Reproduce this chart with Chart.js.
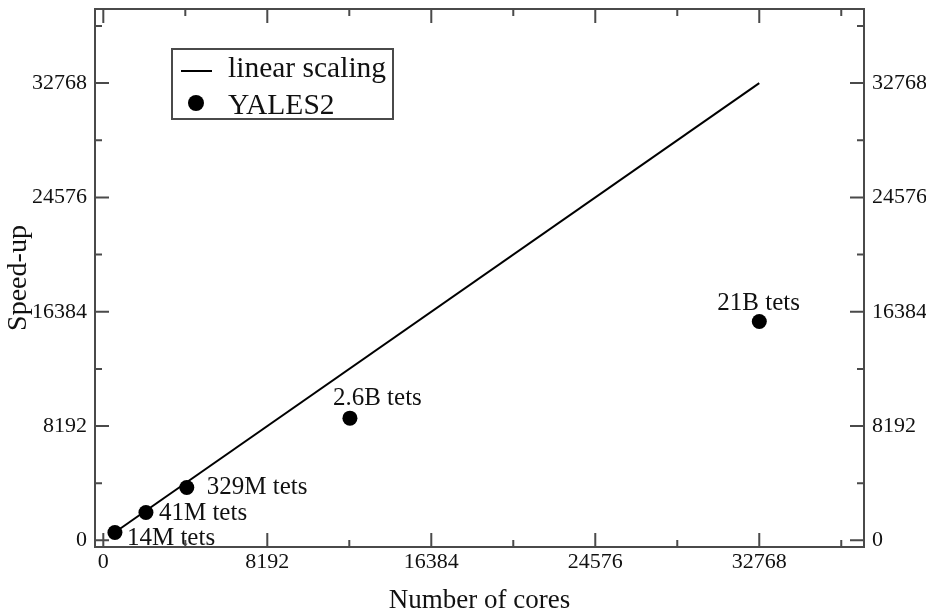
<!DOCTYPE html>
<html><head><meta charset="utf-8">
<script src="https://cdn.jsdelivr.net/npm/chart.js@4.4.0/dist/chart.umd.min.js"></script>
<style>html,body{margin:0;padding:0;background:#fff;overflow:hidden}</style>
</head><body>
<canvas id="c" width="926" height="614"></canvas>
<script>
// ---- data ----
const coresX = [580, 2130, 4170, 12320, 32770];
const speedUp = [560, 2000, 3790, 8760, 15680];
const pointLabels = ['14M tets', '41M tets', '329M tets', '2.6B tets', '21B tets'];
const linearX = [512, 32768];
const linearY = [512, 32768];
const majorTicks = [0, 8192, 16384, 24576, 32768];
const minorTicks = [4096, 12288, 20480, 28672, 36864];
const seriesNames = ['linear scaling', 'YALES2'];
const xTitle = 'Number of cores';
const yTitle = 'Speed-up';

// ---- style ----
const SERIF = "'Liberation Serif', 'Times New Roman', serif";
const FRAME = '#4a4a4a';
const INK = '#111';
const X_MIN = -415, X_MAX = 38000, Y_MIN = -475, Y_MAX = 38080;
const labelOffsets = [[12, 12], [13, 8], [20, 7], [-17, -13], [-42, -12]];

const setTicks = s => { s.ticks = majorTicks.map(v => ({ value: v })); };
const tickFont = { family: SERIF, size: 22 };
const zeroPad = s => { s.paddingTop = 0; s.paddingBottom = 0; s.paddingLeft = 0; s.paddingRight = 0; };

const innerTicks = {
  id: 'innerTicks',
  afterDraw(chart) {
    const { ctx, chartArea: a, scales } = chart;
    ctx.save();
    ctx.strokeStyle = FRAME; ctx.lineWidth = 2;
    const draw = (vals, len) => vals.forEach(v => {
      const px = scales.x.getPixelForValue(v);
      const py = scales.y.getPixelForValue(v);
      ctx.beginPath();
      ctx.moveTo(px, a.bottom); ctx.lineTo(px, a.bottom - len);
      ctx.moveTo(px, a.top); ctx.lineTo(px, a.top + len);
      ctx.moveTo(a.left, py); ctx.lineTo(a.left + len, py);
      ctx.moveTo(a.right, py); ctx.lineTo(a.right - len, py);
      ctx.stroke();
    });
    draw(majorTicks, 14);
    draw(minorTicks, 7);
    ctx.restore();
  }
};

const pointLabelPlugin = {
  id: 'pointLabelPlugin',
  afterDatasetsDraw(chart) {
    const { ctx } = chart;
    const meta = chart.getDatasetMeta(1);
    ctx.save();
    ctx.fillStyle = INK;
    ctx.font = `25px ${SERIF}`;
    ctx.textAlign = 'left';
    ctx.textBaseline = 'alphabetic';
    meta.data.forEach((el, i) => {
      const [dx, dy] = labelOffsets[i];
      ctx.fillText(pointLabels[i], el.x + dx, el.y + dy);
    });
    ctx.restore();
  }
};

const boxLegend = {
  id: 'boxLegend',
  afterDraw(chart) {
    const { ctx } = chart;
    const ds = chart.data.datasets;
    ctx.save();
    ctx.strokeStyle = FRAME; ctx.lineWidth = 2;
    ctx.strokeRect(172, 49, 221, 70);
    ctx.strokeStyle = '#000'; ctx.lineWidth = 2;
    ctx.beginPath(); ctx.moveTo(181, 71); ctx.lineTo(212, 71); ctx.stroke();
    ctx.fillStyle = '#000';
    ctx.beginPath(); ctx.arc(196, 103, 8, 0, Math.PI * 2); ctx.fill();
    ctx.fillStyle = INK;
    ctx.font = `29.5px ${SERIF}`;
    ctx.textAlign = 'left'; ctx.textBaseline = 'alphabetic';
    ctx.fillText(ds[0].label, 228, 77);
    ctx.fillText(ds[1].label, 228, 114);
    ctx.restore();
  }
};

new Chart(document.getElementById('c'), {
  type: 'scatter',
  data: {
    datasets: [
      {
        label: seriesNames[0],
        data: linearX.map((x, i) => ({ x, y: linearY[i] })),
        showLine: true, borderColor: '#000', borderWidth: 2,
        pointRadius: 0, backgroundColor: '#000'
      },
      {
        label: seriesNames[1],
        data: coresX.map((x, i) => ({ x, y: speedUp[i] })),
        showLine: false, pointRadius: 7.5, pointBorderWidth: 0,
        backgroundColor: '#000', borderColor: '#000'
      }
    ]
  },
  options: {
    responsive: false, animation: false,
    layout: { padding: 0, autoPadding: false },
    plugins: { legend: { display: false }, tooltip: { enabled: false } },
    scales: {
      x: {
        type: 'linear', position: 'bottom', min: X_MIN, max: X_MAX,
        afterBuildTicks: setTicks,
        afterFit: s => { s.height = 67; zeroPad(s); },
        grid: { display: false, drawTicks: false },
        border: { display: true, color: FRAME, width: 2 },
        ticks: { font: tickFont, color: INK, padding: 2, maxRotation: 0, callback: v => String(v) },
        title: { display: true, text: xTitle, color: INK, font: { family: SERIF, size: 27, lineHeight: 1 }, padding: 0 }
      },
      x2: {
        type: 'linear', position: 'top', min: X_MIN, max: X_MAX,
        afterBuildTicks: setTicks,
        afterFit: s => { s.height = 9; zeroPad(s); },
        grid: { display: false, drawTicks: false },
        border: { display: true, color: FRAME, width: 2 },
        ticks: { display: false }
      },
      y: {
        type: 'linear', position: 'left', min: Y_MIN, max: Y_MAX,
        afterBuildTicks: setTicks,
        afterFit: s => { s.width = 95; zeroPad(s); },
        grid: { display: false, drawTicks: false },
        border: { display: true, color: FRAME, width: 2 },
        ticks: { font: tickFont, color: INK, padding: 8, callback: v => String(v) },
        title: { display: true, text: yTitle, color: INK, font: { family: SERIF, size: 28, lineHeight: 1 }, padding: { top: 5, bottom: 0 } }
      },
      y2: {
        type: 'linear', position: 'right', min: Y_MIN, max: Y_MAX,
        afterBuildTicks: setTicks,
        afterFit: s => { s.width = 62; zeroPad(s); },
        grid: { display: false, drawTicks: false },
        border: { display: true, color: FRAME, width: 2 },
        ticks: { font: tickFont, color: INK, padding: 8, callback: v => String(v) }
      }
    }
  },
  plugins: [innerTicks, pointLabelPlugin, boxLegend]
});
</script>
</body></html>
